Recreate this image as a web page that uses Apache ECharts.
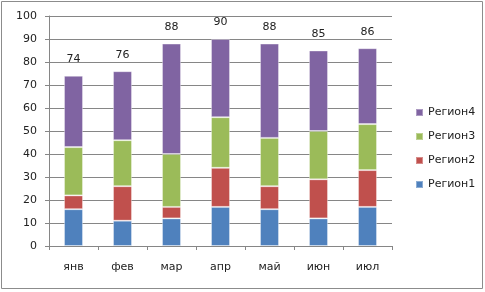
<!DOCTYPE html>
<html><head><meta charset="utf-8">
<script src="https://cdn.jsdelivr.net/npm/echarts@6/dist/echarts.min.js"></script>
<style>html,body{margin:0;padding:0;background:#fff}#c{width:485px;height:292px}</style>
</head><body><div id="c"></div>
<script>
const categories = ['янв','фев','мар','апр','май','июн','июл'];
const region1 = [16, 11, 12, 17, 16, 12, 17];
const region2 = [6, 15, 5, 17, 10, 17, 16];
const region3 = [21, 20, 23, 22, 21, 21, 20];
const region4 = [31, 30, 48, 34, 41, 35, 33];
const totals = [74, 76, 88, 90, 88, 85, 86];
const yTicks = [0,10,20,30,40,50,60,70,80,90,100];

const font = 'DejaVu Sans';
const chart = echarts.init(document.getElementById('c'));
const mk = (name, data, color, extra) => Object.assign({
  name, type: 'bar', stack: 's', data, barWidth: 19,
  itemStyle: {color, borderColor: 'rgba(255,255,255,0.35)', borderWidth: 1},
  emphasis: {disabled: true}
}, extra || {});
chart.setOption({
  animation: false,
  graphic: [{type:'rect', shape:{x:1.5,y:1.5,width:481,height:287}, style:{fill:'none', stroke:'#8c8c8c', lineWidth:1}}],
  grid: {left: 49, right: 93, top: 16, bottom: 46},
  legend: {
    orient: 'vertical', left: 410, top: 102, itemWidth: 7, itemHeight: 7, itemGap: 13,
    icon: 'rect',
    data: ['Регион4','Регион3','Регион2','Регион1'],
    textStyle: {fontFamily: font, fontSize: 11, color: '#222'}
  },
  xAxis: {
    type: 'category', data: categories,
    axisLine: {lineStyle: {color: '#868686'}},
    axisTick: {show: true, length: 4, lineStyle: {color: '#868686'}},
    axisLabel: {fontFamily: font, fontSize: 11, color: '#222', margin: 16}
  },
  yAxis: {
    type: 'value', min: 0, max: 100, interval: 10,
    axisLine: {show: true, lineStyle: {color: '#868686'}},
    axisTick: {show: true, length: 4, lineStyle: {color: '#868686'}},
    splitLine: {lineStyle: {color: '#868686'}},
    axisLabel: {fontFamily: font, fontSize: 11, color: '#222', margin: 12,
      formatter: v => yTicks.includes(v) ? String(v) : ''}
  },
  series: [
    mk('Регион1', region1, '#4F81BD'),
    mk('Регион2', region2, '#C0504D'),
    mk('Регион3', region3, '#9BBB59'),
    mk('Регион4', region4, '#8064A2', {
      label: {show: true, position: 'top', distance: 11, fontFamily: font, fontSize: 11, color: '#222',
        formatter: p => String(totals[p.dataIndex])}
    })
  ]
});
</script></body></html>
